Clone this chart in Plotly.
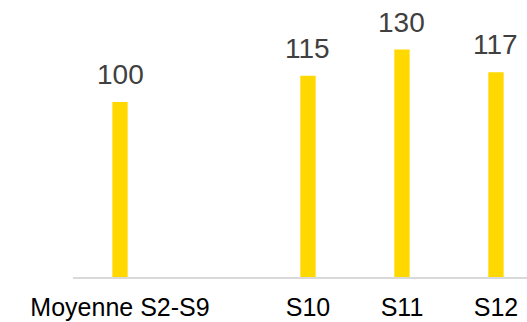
import plotly.graph_objects as go

categories = ["Moyenne S2-S9", " ", "S10", "S11", "S12"]
values = [100, None, 115, 130, 117]
labels = ["100", "", "115", "130", "117"]

fig = go.Figure()
fig.add_trace(go.Bar(
    x=categories, y=values, width=0.163,
    marker=dict(color="#FFD800", line=dict(width=0)),
    hoverinfo="skip",
))
for c, v, t in zip(categories, values, labels):
    if v is None:
        continue
    fig.add_annotation(x=c, y=v, text=t, showarrow=False, yanchor="bottom",
                       yshift=10, font=dict(size=28, color="#404040",
                                           family="Liberation Sans, Arial"))

fig.update_layout(
    width=527, height=322,
    margin=dict(l=73, r=0, t=0, b=45, autoexpand=False),
    paper_bgcolor="white", plot_bgcolor="white",
    showlegend=False,
    font=dict(family="Liberation Sans, Arial", size=25, color="#000000"),
    xaxis=dict(type="category", range=[-0.5, 4.33], showline=True,
               linecolor="#d9d9d9", linewidth=1.5, showgrid=False,
               ticks="", ticklabelstandoff=7, tickangle=0, automargin=False,
               tickfont=dict(size=25, color="#000000"), fixedrange=True),
    yaxis=dict(range=[0, 158.3], visible=False, showgrid=False, fixedrange=True,
               automargin=False),
)
fig.write_html("out.html")
